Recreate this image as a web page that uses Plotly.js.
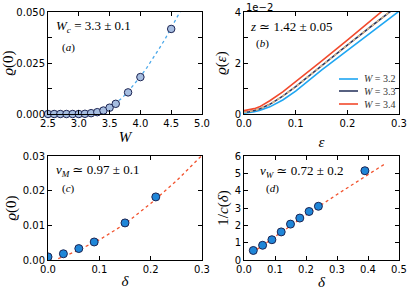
<!DOCTYPE html>
<html>
<head>
<meta charset="utf-8">
<script src="https://cdn.plot.ly/plotly-3.0.1.min.js"></script>
<style>html,body{margin:0;padding:0;background:#fff;}#chart{width:411px;height:291px;}</style>
</head>
<body>
<div id="chart"></div>
<script>
// Panel (a)
const W_a = [2.5, 2.6, 2.7, 2.8, 2.9, 3.0, 3.1, 3.2, 3.3, 3.4, 3.5, 3.6, 3.8, 4.0, 4.5];
const rho0_a = [0, 0, 0, 0, 0, 0, 0.0001, 0.0004, 0.0009, 0.0017, 0.0031, 0.005, 0.0106, 0.0181, 0.0417];
const fitW_a = [3.65, 3.7, 3.8, 3.9, 4.0, 4.1, 4.2, 4.3, 4.4, 4.5, 4.65];
const fitRho_a = [0.0066, 0.0078, 0.011, 0.0145, 0.0183, 0.0225, 0.027, 0.0318, 0.0367, 0.042, 0.0505];

// Panel (b)  (values in units of 1e-2)
const eps_b = [0, 0.01, 0.02, 0.03, 0.05, 0.075, 0.1, 0.15, 0.2, 0.25, 0.3];
const rho_W32 = [0.03, 0.05, 0.09, 0.14, 0.28, 0.55, 0.9, 1.72, 2.5, 3.27, 4.03];
const rho_W33 = [0.07, 0.09, 0.14, 0.2, 0.38, 0.7, 1.07, 1.9, 2.7, 3.5, 4.28];
const rho_W34 = [0.13, 0.16, 0.21, 0.28, 0.52, 0.87, 1.26, 2.07, 2.9, 3.73, 4.58];
const fitRho_b = [0.07, 0.09, 0.14, 0.2, 0.38, 0.7, 1.07, 1.9, 2.7, 3.5, 4.28];
const labels_b = ['<i>W</i> = 3.2', '<i>W</i> = 3.3', '<i>W</i> = 3.4'];
const colors_b = ['#1ea6f2', '#2e3a62', '#f24a2c'];

// Panel (c)
const delta_c = [0, 0.03, 0.06, 0.09, 0.15, 0.21];
const rho0_c = [0.0009, 0.0018, 0.0033, 0.0052, 0.0107, 0.0182];
const fitDelta_c = [0.02, 0.05, 0.1, 0.15, 0.2, 0.25, 0.3];
const fitRho_c = [0.0004, 0.0022, 0.0058, 0.0104, 0.0163, 0.0228, 0.0302];

// Panel (d)
const delta_d = [0.03, 0.06, 0.09, 0.12, 0.15, 0.18, 0.21, 0.24, 0.39];
const invc_d = [0.55, 0.85, 1.17, 1.62, 2.07, 2.42, 2.8, 3.1, 5.15];
const fitDelta_d = [0.025, 0.1, 0.2, 0.3, 0.4, 0.455];
const fitInvc_d = [0.4, 1.35, 2.6, 3.78, 4.95, 5.55];

const NAVY = '#1c2452';
const serif = 'Liberation Serif, DejaVu Serif, serif';
const sans = 'DejaVu Sans, sans-serif';

const traces = [
  {x: fitW_a, y: fitRho_a, xaxis: 'x', yaxis: 'y', mode: 'lines', showlegend: false,
   line: {color: '#4aa8ea', width: 1.3, dash: '3px,3px'}},
  {x: W_a, y: rho0_a, xaxis: 'x', yaxis: 'y', mode: 'markers', showlegend: false, cliponaxis: false,
   marker: {size: 7.5, color: '#a6bde0', line: {color: NAVY, width: 1}}},

  {x: eps_b, y: rho_W32, xaxis: 'x2', yaxis: 'y2', mode: 'lines', name: labels_b[0], showlegend: false,
   line: {color: colors_b[0], width: 1.6}},
  {x: eps_b, y: rho_W33, xaxis: 'x2', yaxis: 'y2', mode: 'lines', name: labels_b[1], showlegend: false,
   line: {color: colors_b[1], width: 1.6}},
  {x: eps_b, y: fitRho_b, xaxis: 'x2', yaxis: 'y2', mode: 'lines', showlegend: false,
   line: {color: '#d9b88c', width: 1.6, dash: '3px,3px'}},
  {x: eps_b, y: rho_W34, xaxis: 'x2', yaxis: 'y2', mode: 'lines', name: labels_b[2], showlegend: false,
   line: {color: colors_b[2], width: 1.6}},

  {x: fitDelta_c, y: fitRho_c, xaxis: 'x3', yaxis: 'y3', mode: 'lines', showlegend: false,
   line: {color: '#f2532e', width: 1.3, dash: '3px,3px'}},
  {x: delta_c, y: rho0_c, xaxis: 'x3', yaxis: 'y3', mode: 'markers', showlegend: false,
   marker: {size: 8, color: '#1f86d8', line: {color: NAVY, width: 1}}},

  {x: fitDelta_d, y: fitInvc_d, xaxis: 'x4', yaxis: 'y4', mode: 'lines', showlegend: false,
   line: {color: '#f2532e', width: 1.3, dash: '3px,3px'}},
  {x: delta_d, y: invc_d, xaxis: 'x4', yaxis: 'y4', mode: 'markers', showlegend: false,
   marker: {size: 8, color: '#1f86d8', line: {color: NAVY, width: 1}}}
];

function ax(extra) {
  return Object.assign({
    showline: true, linecolor: '#000', linewidth: 1, mirror: 'allticks',
    ticks: 'inside', ticklen: 4, tickcolor: '#000', tickwidth: 1,
    showgrid: false, zeroline: false, automargin: false,
    tickfont: {family: sans, size: 10, color: '#000'},
    tickmode: 'array'
  }, extra);
}
function minor(vals) {
  return {tickvals: vals, ticks: 'inside', ticklen: 4, tickcolor: '#000', tickwidth: 1, showgrid: false};
}
const tfont = {family: serif, size: 15, color: '#000'};

const LX = [48/411, 202/411], RX = [244/411, 399/411];
const TY = [1 - 114/291, 1 - 12/291], BY = [1 - 260/291, 1 - 156/291];

// manual legend for panel (b)
const legRowsY = [79, 91, 104];
const legShapes = legRowsY.map((py, i) => ({
  type: 'line', xref: 'paper', yref: 'paper',
  x0: 339/411, x1: 358/411, y0: 1 - py/291, y1: 1 - py/291,
  line: {color: colors_b[i], width: 1.6}
}));
const legTexts = legRowsY.map((py, i) => ({
  xref: 'paper', yref: 'paper', x: 362/411, y: 1 - py/291, xanchor: 'left', yanchor: 'middle',
  showarrow: false, text: labels_b[i], font: {family: serif, size: 10, color: '#333'}
}));

const layout = {
  width: 411, height: 291,
  margin: {l: 0, r: 0, t: 0, b: 0},
  paper_bgcolor: '#fff', plot_bgcolor: '#fff',
  showlegend: false,
  xaxis: ax({domain: LX, anchor: 'y', range: [2.5, 5.0],
             tickvals: [2.5, 3.0, 3.5, 4.0, 4.5, 5.0], ticktext: ['2.5', '3.0', '3.5', '4.0', '4.5', '5.0'],
             title: {text: '<i>W</i>', font: tfont, standoff: 0}}),
  yaxis: ax({domain: TY, anchor: 'x', range: [0, 0.05],
             tickvals: [0, 0.025, 0.05], ticktext: ['0.000', '0.025', '0.050'],
             minor: minor([0.0125, 0.0375]),
             title: {text: '<i>ϱ</i>(0)', font: tfont, standoff: 0}}),
  xaxis2: ax({domain: RX, anchor: 'y2', range: [0, 0.3],
             tickvals: [0, 0.1, 0.2, 0.3], ticktext: ['0.0', '0.1', '0.2', '0.3'],
             title: {text: '<i>ε</i>', font: tfont, standoff: 8}}),
  yaxis2: ax({domain: TY, anchor: 'x2', range: [0, 4],
             tickvals: [0, 2, 4], ticktext: ['0', '2', '4'],
             minor: minor([1, 3]),
             title: {text: '<i>ϱ</i>(<i>ε</i>)', font: tfont, standoff: 4}}),
  xaxis3: ax({domain: LX, anchor: 'y3', range: [0, 0.3],
             tickvals: [0, 0.1, 0.2, 0.3], ticktext: ['0.0', '0.1', '0.2', '0.3'],
             title: {text: '<i>δ</i>', font: tfont, standoff: 1}}),
  yaxis3: ax({domain: BY, anchor: 'x3', range: [0, 0.03],
             tickvals: [0, 0.01, 0.02, 0.03], ticktext: ['0.00', '0.01', '0.02', '0.03'],
             title: {text: '<i>ϱ</i>(0)', font: tfont, standoff: 2}}),
  xaxis4: ax({domain: RX, anchor: 'y4', range: [0, 0.5],
             tickvals: [0, 0.1, 0.2, 0.3, 0.4, 0.5], ticktext: ['0.0', '0.1', '0.2', '0.3', '0.4', '0.5'],
             title: {text: '<i>δ</i>', font: tfont, standoff: 2}}),
  yaxis4: ax({domain: BY, anchor: 'x4', range: [0, 6],
             tickvals: [0, 1, 2, 3, 4, 5, 6], ticktext: ['0', '1', '2', '3', '4', '5', '6'],
             title: {text: '1/<i>c</i>(<i>δ</i>)', font: tfont, standoff: 2}}),
  shapes: legShapes,
  annotations: [
    {xref: 'paper', yref: 'paper', x: 54/411, y: 1 - 26/291, xanchor: 'left', yanchor: 'middle', showarrow: false,
     text: '<i>W</i><sub><i>c</i></sub> = 3.3 ± 0.1', font: {family: serif, size: 13, color: '#000'}},
    {xref: 'paper', yref: 'paper', x: 60/411, y: 1 - 48/291, xanchor: 'left', yanchor: 'middle', showarrow: false,
     text: '(<i>a</i>)', font: {family: serif, size: 11, color: '#000'}},
    {xref: 'paper', yref: 'paper', x: 248/411, y: 1 - 26/291, xanchor: 'left', yanchor: 'middle', showarrow: false,
     text: '<i>z</i> ≃ 1.42 ± 0.05', font: {family: serif, size: 13, color: '#000'}},
    {xref: 'paper', yref: 'paper', x: 254/411, y: 1 - 43/291, xanchor: 'left', yanchor: 'middle', showarrow: false,
     text: '(<i>b</i>)', font: {family: serif, size: 11, color: '#000'}},
    {xref: 'paper', yref: 'paper', x: 244/411, y: 1, xanchor: 'left', yanchor: 'top', showarrow: false,
     text: '1e−2', font: {family: sans, size: 10, color: '#000'}},
    {xref: 'paper', yref: 'paper', x: 54/411, y: 1 - 170/291, xanchor: 'left', yanchor: 'middle', showarrow: false,
     text: '<i>ν</i><sub><i>M</i></sub> ≃ 0.97 ± 0.1', font: {family: serif, size: 13, color: '#000'}},
    {xref: 'paper', yref: 'paper', x: 60/411, y: 1 - 188/291, xanchor: 'left', yanchor: 'middle', showarrow: false,
     text: '(<i>c</i>)', font: {family: serif, size: 11, color: '#000'}},
    {xref: 'paper', yref: 'paper', x: 258/411, y: 1 - 171/291, xanchor: 'left', yanchor: 'middle', showarrow: false,
     text: '<i>ν</i><sub><i>W</i></sub> ≃ 0.72 ± 0.2', font: {family: serif, size: 13, color: '#000'}},
    {xref: 'paper', yref: 'paper', x: 264/411, y: 1 - 188/291, xanchor: 'left', yanchor: 'middle', showarrow: false,
     text: '(<i>d</i>)', font: {family: serif, size: 11, color: '#000'}}
  ].concat(legTexts)
};

Plotly.newPlot('chart', traces, layout, {staticPlot: true, displayModeBar: false});
</script>
</body>
</html>
